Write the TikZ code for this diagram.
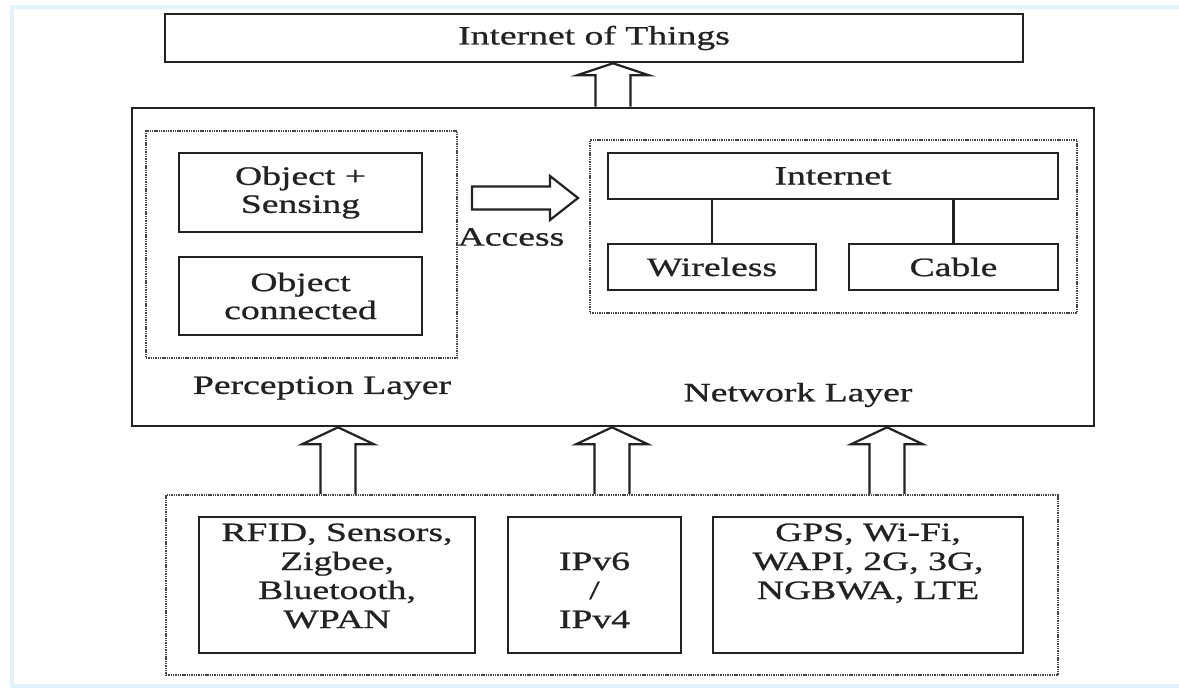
\documentclass[tikz,border=0pt]{standalone}
\usepackage{fontspec}
\setmainfont{Liberation Serif}[FakeStretch=1.42, FakeBold=0.8]
\usetikzlibrary{calc}

\definecolor{ink}{HTML}{222222}
\definecolor{dotink}{HTML}{454545}
\definecolor{framebl}{HTML}{E3F3FB}

\tikzset{
  solidbox/.style={draw=ink, line width=2.6pt, fill=white, inner sep=0pt,
    align=center, text=ink},
  dotbox/.style={draw=dotink, line width=2.2pt, dash pattern=on 1.4pt off 0.9pt},
  label/.style={text=ink, inner sep=0pt, align=center},
  blockarrow/.style={draw=ink, line width=2.2pt, fill=white, line join=miter},
  link/.style={draw=ink, line width=2.4pt}
}

% vertical block arrow: #1 tail, #2 tip (above the tail), #3 head length
\newcommand\vblockarrow[3]{%
  \draw[blockarrow] ($(#1)+(-17.5,0)$) -- ($(#2)+(-17.5,#3)$) -- ($(#2)+(-36,#3)$)
    -- (#2) -- ($(#2)+(36,#3)$) -- ($(#2)+(17.5,#3)$) -- ($(#1)+(17.5,0)$);
}

\begin{document}
\begin{tikzpicture}[x=1pt, y=-1pt, font=\fontsize{26.5}{29}\selectfont]
\useasboundingbox (0,0) rectangle (1179,688);
\fill[white] (0,0) rectangle (1179,688);
\draw[framebl, line width=4pt] (1185,7) -- (12,7) -- (12,686) -- (1185,686);

% top level
\node[solidbox, minimum width=858pt, minimum height=48pt] (iot) at (594,38) {Internet of Things};

% main container
\node[draw=ink, line width=2.6pt, minimum width=962pt, minimum height=318pt] (main) at (613,267) {};

% perception layer
\node[dotbox, minimum width=311pt, minimum height=227pt] (perc) at (301.5,244.5) {};
\node[solidbox, minimum width=243pt, minimum height=79pt] (objsens) at (300.5,192.5) {Object +\\[-1pt]Sensing};
\node[solidbox, minimum width=243pt, minimum height=78pt] (objconn) at (300.5,296) {Object\\[-1pt]connected};
\node[label] (perclabel) at (322,388) {Perception Layer};

% network layer
\node[dotbox, minimum width=487pt, minimum height=173pt] (net) at (833.5,226.5) {};
\node[solidbox, minimum width=450pt, minimum height=46pt] (inet) at (833,176) {Internet};
\node[solidbox, minimum width=208pt, minimum height=46pt] (wireless) at (712,267) {Wireless};
\node[solidbox, minimum width=209pt, minimum height=46pt] (cable) at (953.5,267) {Cable};
\node[label] (netlabel) at (798,395) {Network Layer};

\draw[link] (wireless.north) -- (wireless.north |- inet.south);
\draw[link] (cable.north) -- (cable.north |- inet.south);

% access arrow
\coordinate (accTail) at (472,198);
\coordinate (accTip) at (578,198);
\draw[blockarrow] ($(accTail)+(0,-11.5)$) -- ($(accTip)+(-28,-11.5)$) -- ($(accTip)+(-28,-22)$)
  -- (accTip) -- ($(accTip)+(-28,22)$) -- ($(accTip)+(-28,11.5)$) -- ($(accTail)+(0,11.5)$) -- cycle;
\node[label] (access) at (511,237) {Access};

% technologies
\node[dotbox, minimum width=892pt, minimum height=180pt] (tech) at (612,585) {};
\node[solidbox, minimum width=276pt, minimum height=136pt] (rfid) at (337,585) {};
\node[solidbox, minimum width=173pt, minimum height=136pt] (ipv) at (594.5,585) {};
\node[solidbox, minimum width=310pt, minimum height=136pt] (gps) at (868,585) {};
\node[label, anchor=base] (rfidtext) at (337,628) {RFID, Sensors,\\Zigbee,\\Bluetooth,\\WPAN};
\node[label, anchor=base] (ipvtext) at (594.5,628) {IPv6\\/\\IPv4};
\node[label, anchor=base] (gpstext) at (868,599) {GPS, Wi-Fi,\\WAPI, 2G, 3G,\\NGBWA, LTE};

% upward block arrows
\coordinate (c0) at (613,0);
\coordinate (c1) at (338,0);
\coordinate (c2) at (612,0);
\coordinate (c3) at (887,0);
\coordinate (a0t) at (main.north -| c0);
\coordinate (a0h) at (iot.south -| c0);
\vblockarrow{a0t}{a0h}{12}
\coordinate (a1t) at (tech.north -| c1);
\coordinate (a1h) at (main.south -| c1);
\vblockarrow{a1t}{a1h}{17}
\coordinate (a2t) at (tech.north -| c2);
\coordinate (a2h) at (main.south -| c2);
\vblockarrow{a2t}{a2h}{17}
\coordinate (a3t) at (tech.north -| c3);
\coordinate (a3h) at (main.south -| c3);
\vblockarrow{a3t}{a3h}{17}
\end{tikzpicture}
\end{document}
